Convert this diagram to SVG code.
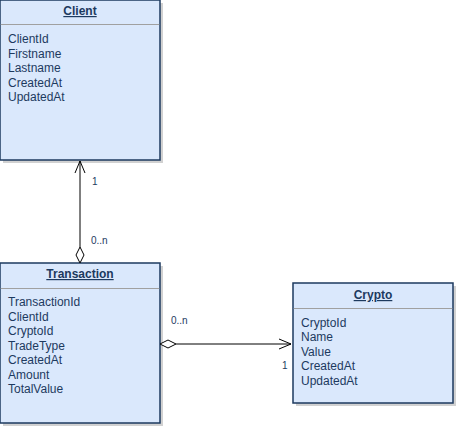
<svg xmlns="http://www.w3.org/2000/svg" width="456" height="428" viewBox="0 0 456 428">
<style>
.box{fill:#dae8fc;stroke:#1d3a5f;stroke-width:1.5}
.shadow{fill:#b3b3b3;opacity:0.6}
.sep{stroke:#a0a0a0;stroke-width:1}
.title{font-family:"Liberation Sans",Arial,sans-serif;font-size:12px;font-weight:bold;text-decoration:underline;fill:#1d3a5f;text-anchor:middle}
.attr{font-family:"Liberation Sans",Arial,sans-serif;font-size:12px;fill:#1d3a5f}
.lbl{font-family:"Liberation Sans",Arial,sans-serif;font-size:10px;fill:#1d3a5f}
.line{stroke:#000;stroke-width:1;fill:none}
.dia{stroke:#000;stroke-width:1;fill:#fff}
</style>
<rect width="456" height="428" fill="#fff"/>
<g id="client">
<rect class="shadow" x="3" y="3" width="160" height="160"/>
<rect class="box" x="0" y="0" width="160" height="160"/>
<line class="sep" x1="0.75" y1="24.5" x2="159.25" y2="24.5"/>
<text class="title" x="80" y="15">Client</text>
<text class="attr" x="8" y="43">ClientId</text>
<text class="attr" x="8" y="57.5">Firstname</text>
<text class="attr" x="8" y="72">Lastname</text>
<text class="attr" x="8" y="86.5">CreatedAt</text>
<text class="attr" x="8" y="101">UpdatedAt</text>
</g>
<g id="transaction">
<rect class="shadow" x="3" y="266" width="160" height="160"/>
<rect class="box" x="0" y="263" width="160" height="160"/>
<line class="sep" x1="0.75" y1="288.5" x2="159.25" y2="288.5"/>
<text class="title" x="80" y="278">Transaction</text>
<text class="attr" x="8" y="306">TransactionId</text>
<text class="attr" x="8" y="320.5">ClientId</text>
<text class="attr" x="8" y="335">CryptoId</text>
<text class="attr" x="8" y="349.5">TradeType</text>
<text class="attr" x="8" y="364">CreatedAt</text>
<text class="attr" x="8" y="378.5">Amount</text>
<text class="attr" x="8" y="393">TotalValue</text>
</g>
<g id="crypto">
<rect class="shadow" x="296" y="286" width="160" height="120"/>
<rect class="box" x="293" y="283" width="160" height="120"/>
<line class="sep" x1="293.75" y1="308.5" x2="452.25" y2="308.5"/>
<text class="title" x="373" y="299">Crypto</text>
<text class="attr" x="301" y="326.5">CryptoId</text>
<text class="attr" x="301" y="341">Name</text>
<text class="attr" x="301" y="355.5">Value</text>
<text class="attr" x="301" y="370">CreatedAt</text>
<text class="attr" x="301" y="384.5">UpdatedAt</text>
</g>
<g id="connectors">
<line class="line" x1="80" y1="161" x2="80" y2="247"/>
<polyline class="line" points="75,173 80,161 85,173"/>
<polygon class="dia" points="80,247 84,255 80,263 76,255"/>
<text class="lbl" x="92" y="185">1</text>
<text class="lbl" x="91" y="244">0..n</text>
<line class="line" x1="176" y1="344" x2="291" y2="344"/>
<polygon class="dia" points="160,344 168,340 176,344 168,348"/>
<polyline class="line" points="279,339 291,344 279,349"/>
<text class="lbl" x="171" y="324">0..n</text>
<text class="lbl" x="282" y="369">1</text>
</g>
</svg>
